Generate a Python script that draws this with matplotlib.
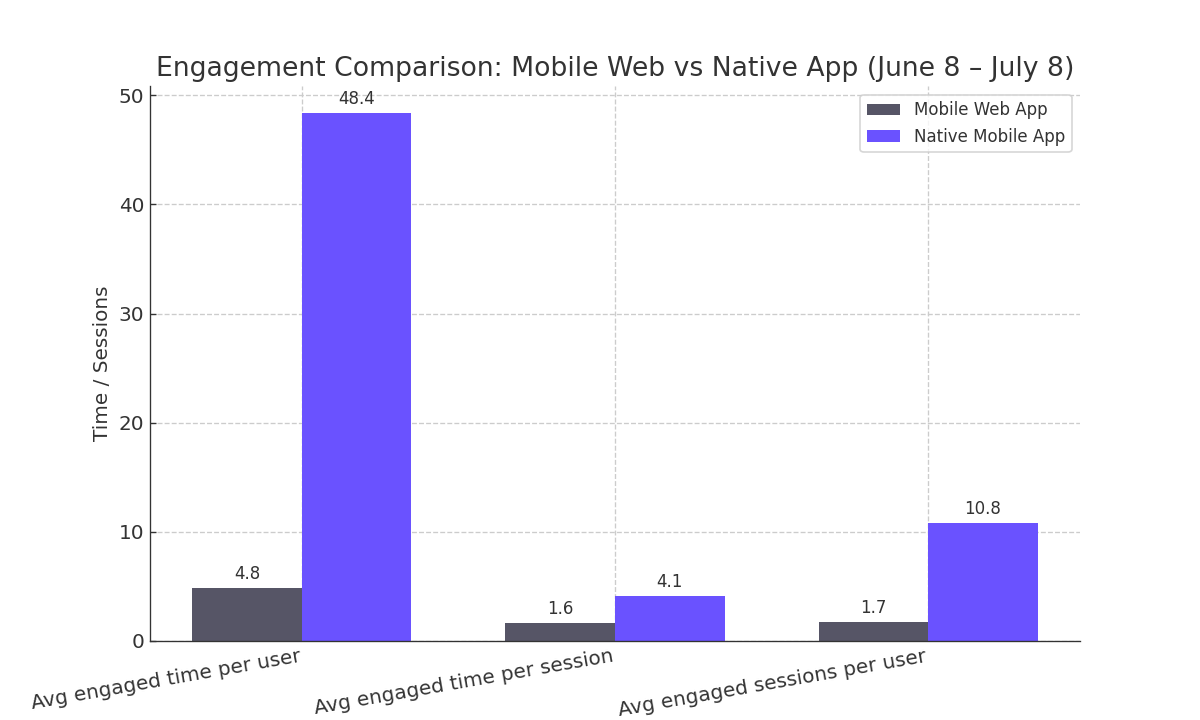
import matplotlib.pyplot as plt
import numpy as np

metrics = [
    "Avg engaged time per user",
    "Avg engaged time per session",
    "Avg engaged sessions per user",
]
web_app = [4.8, 1.6, 1.7]
native_app = [48.4, 4.1, 10.8]

text_color = "#333333"
plt.rcParams["text.color"] = text_color
plt.rcParams["axes.labelcolor"] = text_color
plt.rcParams["xtick.color"] = text_color
plt.rcParams["ytick.color"] = text_color
plt.rcParams["axes.edgecolor"] = text_color

x = np.arange(len(metrics))
width = 0.35

fig, ax = plt.subplots(figsize=(10, 6), dpi=120)

b1 = ax.bar(x - width / 2, web_app, width, label="Mobile Web App", color="#565566", zorder=2)
b2 = ax.bar(x + width / 2, native_app, width, label="Native Mobile App", color="#6A52FF", zorder=2)

for bars in (b1, b2):
    for bar in bars:
        h = bar.get_height()
        ax.annotate(f"{h}", xy=(bar.get_x() + bar.get_width() / 2, h),
                    xytext=(0, 3), textcoords="offset points",
                    ha="center", va="bottom", fontsize=10)

ax.set_title("Engagement Comparison: Mobile Web vs Native App (June 8 \u2013 July 8)", fontsize=16)
ax.set_ylabel("Time / Sessions", fontsize=12)
ax.set_xticks(x)
ax.set_xticklabels(metrics, rotation=10, ha="right", fontsize=12)
ax.tick_params(axis="both", direction="in", labelsize=12)

ax.grid(True, linestyle="--", color="#cccccc", linewidth=0.8, zorder=0)
ax.spines["top"].set_visible(False)
ax.spines["right"].set_visible(False)

ax.legend(loc="upper right", fontsize=10)

plt.savefig("out.png")
